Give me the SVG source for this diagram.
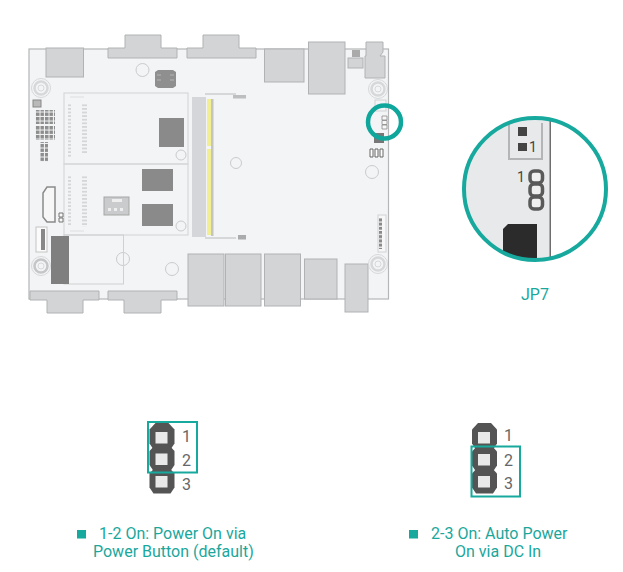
<svg xmlns="http://www.w3.org/2000/svg" width="623" height="572" viewBox="0 0 623 572">
<defs>
<style>
.g{fill:#d2d4d5;stroke:#b0b2b3;stroke-width:1}
.d{fill:#8a8a8a}
.o{fill:none;stroke:#d6d8d9;stroke-width:1.2}
.h{fill:#f3f4f5;stroke:#c9cbcc;stroke-width:1}
.pin{fill:#545454}
.pad{fill:#e9e9ea}
.t{font-family:Roboto,"Liberation Sans",sans-serif;fill:#1aa79c;font-size:16px}
.n{font-family:Roboto,"Liberation Sans",sans-serif;fill:#666;font-size:16px}
.b{fill:none;stroke:#17a99e;stroke-width:2}
.s{fill:#17a99e}
</style>
<clipPath id="lens"><circle cx="535" cy="189" r="71"/></clipPath>
<g id="jmp">
<polygon class="pin" points="-6,-14.500 7,-14.500 13,-8 13,6 9,12 -8,12 -12,6 -12,-8"/>
<rect class="pad" x="-6" y="-5.500" width="12" height="11.500"/>
</g>
<pattern id="grid" width="4.500" height="4.500" patternUnits="userSpaceOnUse"><rect width="3.500" height="3.500" fill="#8d8d8d"/></pattern>
<pattern id="tick" width="3" height="3.600" patternUnits="userSpaceOnUse"><rect width="3" height="1.800" fill="#d4d6d7"/></pattern>
<pattern id="dot" width="3" height="4.200" patternUnits="userSpaceOnUse"><rect width="3" height="3" fill="#8a8a8a"/></pattern>
</defs>

<g id="board">
<rect x="29" y="49" width="359.500" height="250" fill="#f3f4f5" stroke="#b4b6b7" stroke-width="1.200"/>
<rect class="g" x="46" y="48" width="37.500" height="29"/>
<path class="g" d="M108 58V48H125V35H161V48H177V58Z"/>
<path class="g" d="M187 58V48H203V35H239V48H256V58Z"/>
<rect class="g" x="264.500" y="49" width="39.500" height="33"/>
<rect class="g" x="308.500" y="42" width="36.500" height="52"/>
<rect class="g" x="348" y="58" width="15" height="10"/>
<rect x="352" y="50" width="8" height="7" fill="#aaa"/>
<path class="g" d="M366 42H383V52L380 56H385V78H365V56H366Z"/>
<path class="g" d="M30 291H99V300H83V313H47V300H30Z"/>
<path class="g" d="M108 291H177V300H161V313H124V300H108Z"/>
<rect class="g" x="188" y="254" width="36" height="52"/>
<rect class="g" x="225.500" y="254" width="35.500" height="52"/>
<rect class="g" x="264.500" y="254" width="36" height="52"/>
<rect class="g" x="304.500" y="259" width="32.500" height="40"/>
<rect class="g" x="345" y="264" width="23" height="48"/>
</g>

<g id="holes">
<circle class="h" cx="142.500" cy="70" r="6.500"/>
<circle class="h" cx="181" cy="155" r="5"/>
<circle class="h" cx="236" cy="163" r="5.500"/>
<circle class="h" cx="372" cy="172" r="6.500"/>
<circle class="h" cx="181" cy="226" r="5"/>
<circle class="h" cx="123" cy="259" r="6.500"/>
<circle class="h" cx="172" cy="269" r="6.500"/>
<g fill="none" stroke="#d6d8d9">
<circle cx="41" cy="88" r="9.500"/><circle cx="41" cy="88" r="6.500" stroke-width="2.500"/><circle cx="41" cy="88" r="3"/>
<circle cx="41" cy="266" r="9.500"/><circle cx="41" cy="266" r="6.500" stroke-width="2.500" stroke="#c4c6c7"/><circle cx="41" cy="266" r="3"/>
<circle cx="378" cy="89" r="9.500"/><circle cx="378" cy="89" r="6.500" stroke-width="2.500"/><circle cx="378" cy="89" r="3"/>
<circle cx="378" cy="264" r="9.500"/><circle cx="378" cy="264" r="6.500" stroke-width="2.500"/><circle cx="378" cy="264" r="3"/>
</g>
</g>

<g id="slots">
<rect class="o" x="64" y="93" width="124" height="71"/>
<rect class="o" x="64" y="164" width="124" height="71"/>
<rect x="64" y="235" width="59.500" height="49" fill="none" stroke="#cfd1d2"/>
<rect x="68" y="103" width="3" height="55" fill="url(#tick)"/>
<rect x="82" y="103" width="5" height="50" fill="url(#tick)"/>
<rect x="68" y="175" width="3" height="50" fill="url(#tick)"/>
<rect x="82" y="175" width="5" height="52" fill="url(#tick)"/>
<path d="M70 97H84M70 231H84" stroke="#dcdedf" stroke-width="1.200" fill="none"/>
<rect class="d" x="159" y="118" width="25" height="29"/>
<rect class="d" x="142" y="169" width="31" height="22"/>
<rect class="d" x="142" y="204" width="31" height="22"/>
<path d="M158 70H173L176 72V86L173 88H158L155 86V72Z" fill="#8f8f8f"/>
<path d="M157 75h4M157 80h4M170 75h4M170 80h4" stroke="#b5b5b5" stroke-width="1" fill="none"/>
<rect x="104" y="197" width="25" height="18" fill="#c9cbcc" stroke="#a5a5a5"/>
<rect x="112" y="199" width="10" height="3" fill="#eee"/>
<path d="M108 208h3v3h-3zM114 208h3v3h-3zM120 208h3v3h-3z" fill="#eee"/>
</g>

<g id="sodimm">
<rect x="192" y="97" width="14" height="140" fill="#d5d6d9"/>
<rect x="207" y="99" width="4" height="47" fill="#f2ef93"/>
<rect x="207" y="149" width="4" height="86" fill="#f2ef93"/>
<rect x="211" y="99" width="2.500" height="137" fill="#c4c4c0"/>
<path d="M205 94H236M205 238H236" stroke="#d5d7d8" stroke-width="2" fill="none"/>
<rect x="233" y="95" width="13" height="3.500" fill="#bcbebf"/>
<rect x="238" y="235" width="8" height="4.500" fill="#a9abac"/>
</g>

<g id="headers">
<rect x="33" y="100" width="8" height="7" fill="#b9b9b9" stroke="#888"/>
<rect x="35" y="110" width="20" height="14" fill="url(#grid)"/>
<rect x="35" y="126" width="20" height="14" fill="url(#grid)"/>
<rect x="40" y="142" width="8" height="20" fill="url(#grid)"/>
<path d="M47 187H55V222H47L43 217V193Z" fill="#f7f7f7" stroke="#8a8a8a" stroke-width="1.500"/>
<path d="M59 213h4v4h-4zM59 218h4v4h-4z" fill="#f7f7f7" stroke="#777"/>
<rect x="36" y="227" width="11" height="25" fill="#fbfbfb" stroke="#c4c4c4"/>
<rect x="41" y="229" width="4" height="21" fill="#888"/>
<rect x="51" y="236" width="18" height="48" fill="#7f7f7f"/>
<rect x="378" y="215" width="8" height="37" fill="#f7f7f7" stroke="#d0d2d3"/>
<rect x="379" y="218" width="3" height="31" fill="url(#dot)"/>
<rect x="374" y="133" width="10" height="10" fill="#777"/>
<path d="M370 149h3v8h-3zM375 149h3v8h-3zM380 149h3v8h-3z" fill="#fff" stroke="#666"/>
<rect x="375" y="100" width="11" height="11" fill="none" stroke="#d0d2d3"/>
<path d="M382 116h5v4h-5zM382 120.500h5v4h-5zM382 125h5v4h-5z" fill="#f7f7f7" stroke="#8a8a8a" stroke-width="0.800"/>
</g>

<g id="marker">
<circle cx="384.500" cy="122" r="16.500" fill="none" stroke="#0fa79c" stroke-width="4.500"/>
</g>

<g id="lens-view">
<g clip-path="url(#lens)">
<rect x="462" y="116" width="88" height="146" fill="#e8e9eb"/>
<rect x="550" y="116" width="60" height="146" fill="#fff"/>
<rect x="549.500" y="116" width="1.500" height="146" fill="#6f6f6f"/>
<path d="M509 123V159H542V123" fill="none" stroke="#b3b5b6" stroke-width="2"/>
<rect x="518" y="127" width="9" height="9" fill="#444"/>
<rect x="518" y="143" width="9" height="8" fill="#444"/>
<path d="M503 229L508 224H537V262H503Z" fill="#2b2b2b"/>
<g fill="#f0f0f1" stroke="#5a5a5a" stroke-width="3.500">
<rect x="530" y="171" width="12.500" height="12" rx="4"/>
<rect x="530" y="184" width="12.500" height="12" rx="4"/>
<rect x="530" y="197" width="12.500" height="12" rx="4"/>
</g>
</g>
<circle cx="535" cy="189" r="71" fill="none" stroke="#17a99e" stroke-width="4"/>
<text x="529" y="152" font-family="Roboto,'Liberation Sans',sans-serif" font-size="14" fill="#444">1</text>
<text x="517" y="182" font-family="Roboto,'Liberation Sans',sans-serif" font-size="14" fill="#444">1</text>
<text class="t" x="535" y="300" text-anchor="middle">JP7</text>
</g>

<g id="jumper-1-2">
<use href="#jmp" x="161.500" y="437.500"/>
<use href="#jmp" x="161.500" y="459"/>
<use href="#jmp" x="161.500" y="481.500"/>
<rect class="b" x="148" y="422" width="49" height="50.500"/>
<text class="n" x="182" y="442">1</text>
<text class="n" x="182" y="466">2</text>
<text class="n" x="182" y="489.500">3</text>
</g>

<g id="jumper-2-3">
<use href="#jmp" x="484" y="437.500"/>
<use href="#jmp" x="484" y="459.500"/>
<use href="#jmp" x="484" y="481.500"/>
<rect class="b" x="471.500" y="446.500" width="48.500" height="50"/>
<text class="n" x="504" y="441">1</text>
<text class="n" x="504" y="466">2</text>
<text class="n" x="504" y="488.500">3</text>
</g>

<g id="legend-1">
<rect class="s" x="77" y="530" width="9" height="8.500"/>
<text class="t" x="99" y="539">1-2 On: Power On via</text>
<text class="t" x="93" y="557">Power Button (default)</text>
</g>
<g id="legend-2">
<rect class="s" x="409" y="530" width="9" height="8.500"/>
<text class="t" x="431" y="539">2-3 On: Auto Power</text>
<text class="t" x="455" y="557">On via DC In</text>
</g>
</svg>
